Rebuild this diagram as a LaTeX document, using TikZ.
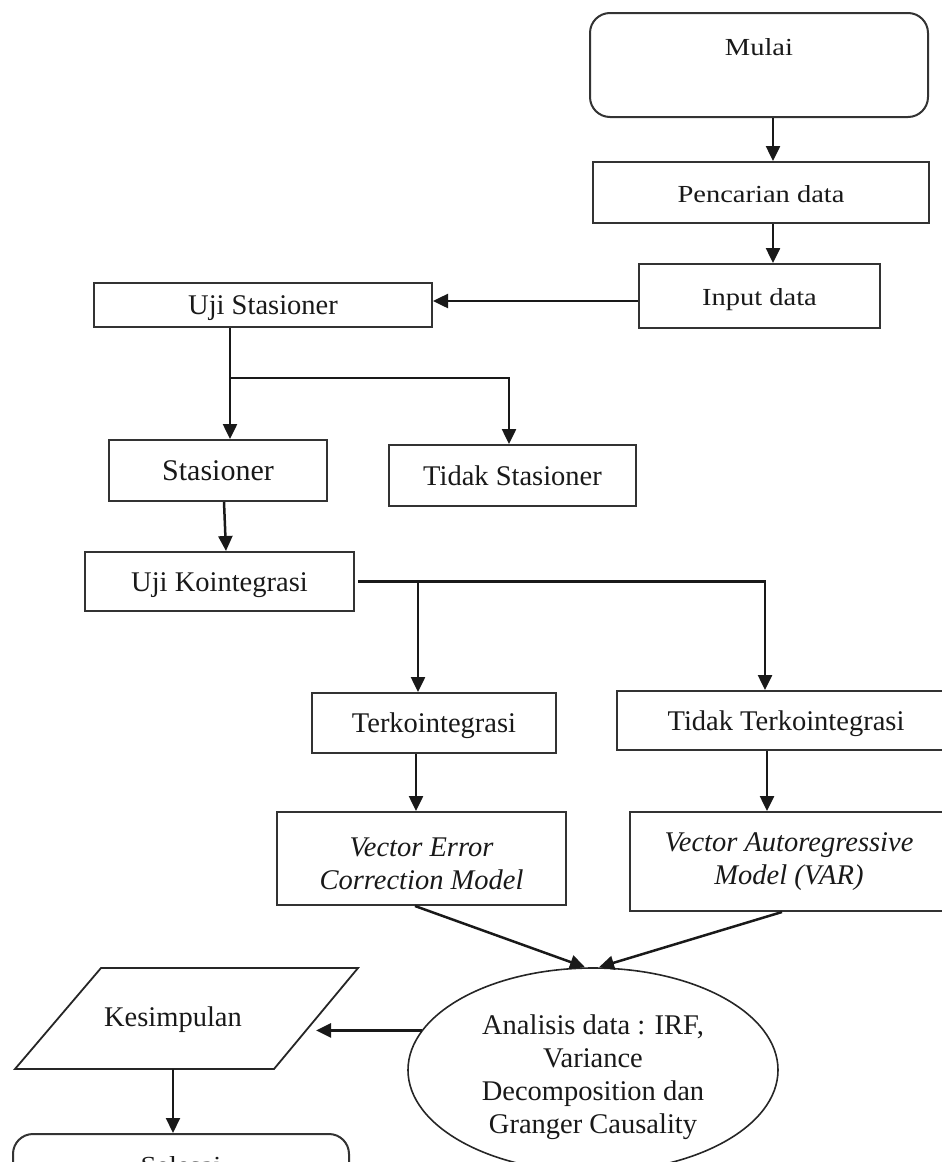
\documentclass[tikz,border=0pt]{standalone}
\usepackage{fontspec}
\setmainfont{Liberation Serif}
\usepackage{graphicx}
\usetikzlibrary{arrows.meta,shapes.geometric}
\begin{document}
\begin{tikzpicture}[x=1pt,y=-1pt,
  txt/.style={font=\fontsize{28.5}{33}\selectfont, text height=21pt, text depth=2pt, inner sep=0pt, text=black!90},
  box/.style={txt, rectangle, draw=black!80, line width=2pt},
  rbox/.style={box, rounded corners=20pt},
  arr/.style={line width=2.5pt, draw=black!90, -{Triangle[length=15pt,width=14pt]}},
  plain/.style={line width=2.5pt, draw=black!90}]
\useasboundingbox (0,0) rectangle (942,1162);
\clip (0,0) rectangle (942,1162);

% nodes
\node[rbox, minimum width=338pt, text height=42pt, text depth=62pt] (mulai) at (759,65) {\scalebox{1}[0.86]{Mulai}};
\node[box, minimum width=336pt, minimum height=61pt] (penc) at (761,192.5) {\scalebox{1}[0.86]{Pencarian data}};
\node[box, minimum width=241pt, minimum height=64pt] (input) at (759.5,296) {\scalebox{1}[0.86]{Input data}};
\node[box, minimum width=338pt, minimum height=44pt] (uji) at (263,305) {Uji Stasioner};
\node[box, minimum width=218pt, minimum height=61pt, font=\fontsize{30}{34}\selectfont] (stas) at (218,470.5) {Stasioner};
\node[box, minimum width=247pt, minimum height=61pt] (ts) at (512.5,475.5) {Tidak Stasioner};
\node[box, minimum width=269pt, minimum height=59pt] (ujik) at (219.5,581.5) {Uji Kointegrasi};
\node[box, minimum width=244pt, minimum height=60pt] (terko) at (434,723) {Terkointegrasi};
\node[box, minimum width=338pt, minimum height=59pt] (tt) at (786,720.5) {Tidak Terkointegrasi};
\node[box, minimum width=289pt, minimum height=93pt, align=center, text height=, text depth=, font=\fontsize{28.5}{33}\itshape] (vecm) at (421.5,858.5) {\rule{0pt}{30pt}Vector Error\\Correction Model};
\node[box, minimum width=318pt, minimum height=99pt, align=center, text height=, text depth=, font=\fontsize{28.5}{33}\itshape] (var) at (789,861.5) {Vector Autoregressive\\Model (VAR)};
\node[txt, ellipse, draw=black!85, line width=1.6pt, minimum width=370pt, minimum height=204pt, align=center, text height=, text depth=] (ell) at (593,1070) {\rule{0pt}{35pt}Analisis data : IRF,\\Variance\\Decomposition dan\\Granger Causality};
\node[txt] (kes) at (173,1017) {Kesimpulan};
\draw[black!85, line width=1.8pt] (101,968) -- (358,968) -- (274,1069) -- (15,1069) -- cycle;
\coordinate (kesR) at (316,1032);
\coordinate (kesB) at (173,1069);
\node[rbox, minimum width=336pt, text height=39pt, text depth=65pt] (sel) at (181,1186) {\scalebox{1}[0.86]{Selesai}};

% connectors
\draw[arr] ([xshift=14pt]mulai.south) -- ([xshift=14pt]mulai.south |- penc.north);
\draw[arr] ([xshift=12pt]penc.south) -- ([xshift=12pt]penc.south |- input.north);
\draw[arr] ([yshift=-5pt]input.west) -- ([yshift=-5pt]input.west -| uji.east);
\coordinate (b1) at (230,378);
\draw[arr] (uji.south -| b1) -- (b1 |- stas.north);
\draw[arr] (b1) -| ([xshift=-3.5pt]ts.north);
\draw[arr] ([xshift=6pt]stas.south) -- ([xshift=6.5pt]ujik.north);
\draw[arr] ([xshift=3pt]ujik.east) -| ([xshift=-21pt]tt.north);
\draw[arr] ([xshift=-16pt]terko.north |- ujik.east) -- ([xshift=-16pt]terko.north);
\draw[arr] ([xshift=-18pt]terko.south) -- ([xshift=-18pt]terko.south |- vecm.north);
\draw[arr] ([xshift=-19pt]tt.south) -- ([xshift=-19pt]tt.south |- var.north);
\draw[arr] ([xshift=-6.5pt]vecm.south) -- ([xshift=-8pt]ell.north);
\draw[arr] ([xshift=-7pt]var.south) -- ([xshift=6pt]ell.north);
\draw[arr] (ell.167.5) -- (ell.167.5 -| kesR);
\draw[arr, line width=2pt] (kesB) -- (kesB |- sel.north);
\end{tikzpicture}
\end{document}
